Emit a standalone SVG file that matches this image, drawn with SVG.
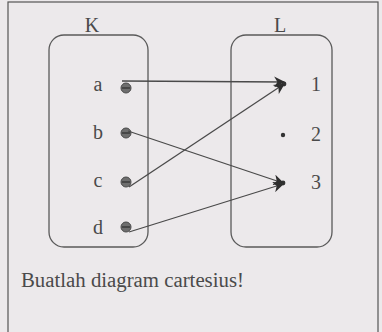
<svg xmlns="http://www.w3.org/2000/svg" width="382" height="332" viewBox="0 0 382 332">
<style>
.t{font-family:"Liberation Serif","Times New Roman",serif;font-size:20px;fill:#4a4a4a}
.box{fill:none;stroke:#5a5a5a;stroke-width:1.3}
.dot{fill:#6e6e6e;stroke:#4a4a4a;stroke-width:1}
.bar{stroke:#2e2e2e;stroke-width:1.2}
.c{stroke:#4a4a4a;stroke-width:1.3;fill:none;marker-end:url(#ah)}
</style>
<defs>
<marker id="ah" viewBox="0 0 10 10" refX="9" refY="5" markerWidth="12" markerHeight="11" markerUnits="userSpaceOnUse" orient="auto">
<path d="M0,0 L10,5 L0,10 L3,5 z" fill="#2e2e2e"/>
</marker>
</defs>
<rect x="0" y="0" width="382" height="332" fill="#ece9eb"/>
<rect x="8" y="2" width="370" height="340" fill="none" stroke="#555" stroke-width="1.2"/>
<g id="K">
<rect class="box" x="49" y="35" width="99" height="212" rx="15"/>
<text class="t" x="92" y="32" text-anchor="middle">K</text>
<text class="t" x="98" y="91" text-anchor="middle">a</text>
<text class="t" x="98" y="139" text-anchor="middle">b</text>
<text class="t" x="98" y="187" text-anchor="middle">c</text>
<text class="t" x="98" y="234" text-anchor="middle">d</text>
<circle class="dot" cx="126" cy="88" r="5"/><line class="bar" x1="122" y1="88" x2="130" y2="88"/>
<circle class="dot" cx="126" cy="133" r="5"/><line class="bar" x1="122" y1="133" x2="130" y2="133"/>
<circle class="dot" cx="126" cy="182" r="5"/><line class="bar" x1="122" y1="182" x2="130" y2="182"/>
<circle class="dot" cx="126" cy="227" r="5"/><line class="bar" x1="122" y1="227" x2="130" y2="227"/>
</g>
<g id="L">
<rect class="box" x="231" y="35" width="101" height="212" rx="15"/>
<text class="t" x="280" y="32" text-anchor="middle">L</text>
<text class="t" x="316" y="91" text-anchor="middle">1</text>
<text class="t" x="316" y="141" text-anchor="middle">2</text>
<text class="t" x="316" y="189" text-anchor="middle">3</text>
<circle cx="284" cy="84" r="2.4" fill="#333"/>
<circle cx="283" cy="135" r="2.2" fill="#333"/>
<circle cx="283" cy="183" r="2.4" fill="#333"/>
</g>
<g id="connectors">
<line class="c" x1="122" y1="81" x2="284" y2="82"/>
<line class="c" x1="128" y1="131" x2="283" y2="183"/>
<line class="c" x1="129" y1="187" x2="284" y2="84"/>
<line class="c" x1="129" y1="232" x2="283" y2="184"/>
</g>
<text class="t" x="21" y="287" style="font-size:20.8px">Buatlah diagram cartesius!</text>
</svg>
